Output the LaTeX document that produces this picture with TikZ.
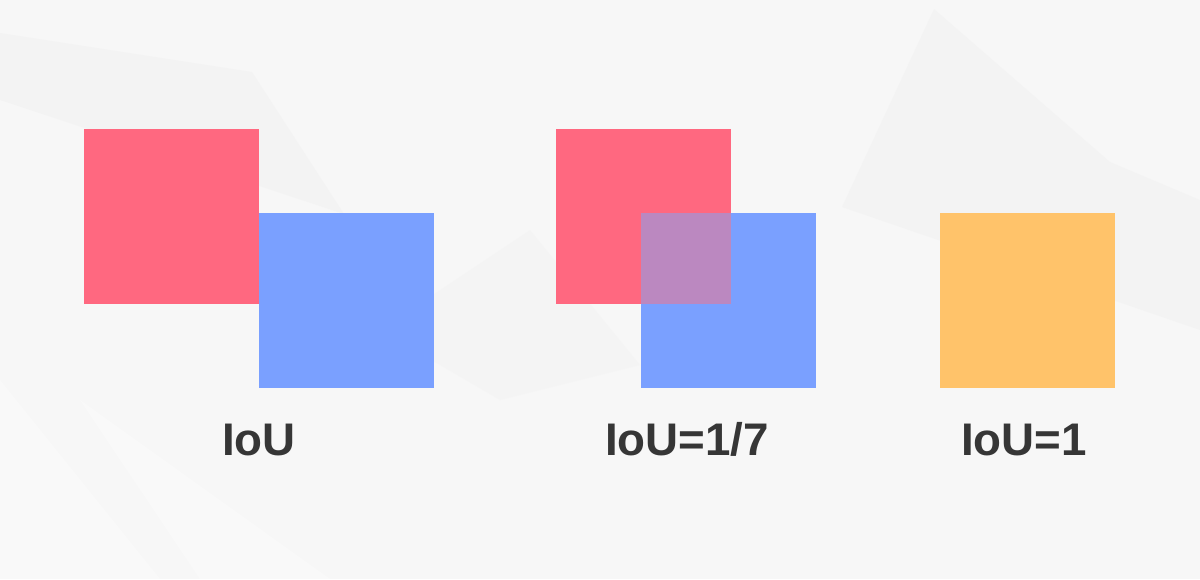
\documentclass[tikz,border=0pt]{standalone}
\usepackage{fontspec}
\newfontfamily\ioufont{Liberation Sans}
\definecolor{bggray}{HTML}{F7F7F7}
\definecolor{shadegray}{HTML}{EFEFEF}
\definecolor{boxred}{HTML}{FF6880}
\definecolor{boxblue}{HTML}{7AA0FF}
\definecolor{boxmix}{HTML}{BB88C0}
\definecolor{boxorange}{HTML}{FFC36A}
\definecolor{labelgray}{HTML}{363636}
\tikzset{
  sq/.style={inner sep=0pt, outer sep=0pt, minimum size=4.375cm, anchor=north west},
  ioulabel/.style={inner sep=0pt, anchor=base, text=labelgray, font=\ioufont\bfseries\fontsize{32.5}{38}\selectfont}
}
\begin{document}
\begin{tikzpicture}[x=0.025cm, y=-0.025cm]
\fill[bggray] (0,0) rectangle (1200,579);
\useasboundingbox (0,0) rectangle (1200,579);
\fill[shadegray, opacity=0.45] (0,33) -- (252,72) -- (344,214) -- (0,100) -- cycle;
\fill[shadegray, opacity=0.45] (934,9) -- (1110,162) -- (1200,200) -- (1200,330) -- (842,207) -- cycle;
\fill[shadegray, opacity=0.3] (380,330) -- (530,230) -- (640,365) -- (500,400) -- cycle;
\fill[white, opacity=0.3] (0,380) -- (160,579) -- (0,579) -- cycle;
\fill[white, opacity=0.3] (80,400) -- (330,579) -- (200,579) -- cycle;
\node[sq, fill=boxred] (red1) at (84,129) {};
\node[sq, fill=boxblue] (blue1) at (259,213) {};
\node[sq, fill=boxred] (red2) at (556,129) {};
\node[sq, fill=boxblue] (blue2) at (641,213) {};
\fill[boxmix] (blue2.north west) rectangle (red2.south east);
\node[sq, fill=boxorange] (orange3) at (940,213) {};
\node[ioulabel] (lab1) at (259,455) {IoU};
\node[ioulabel] (lab2) at (687,455) {IoU=1/7};
\node[ioulabel] (lab3) at (1024,455) {IoU=1};
\end{tikzpicture}
\end{document}
